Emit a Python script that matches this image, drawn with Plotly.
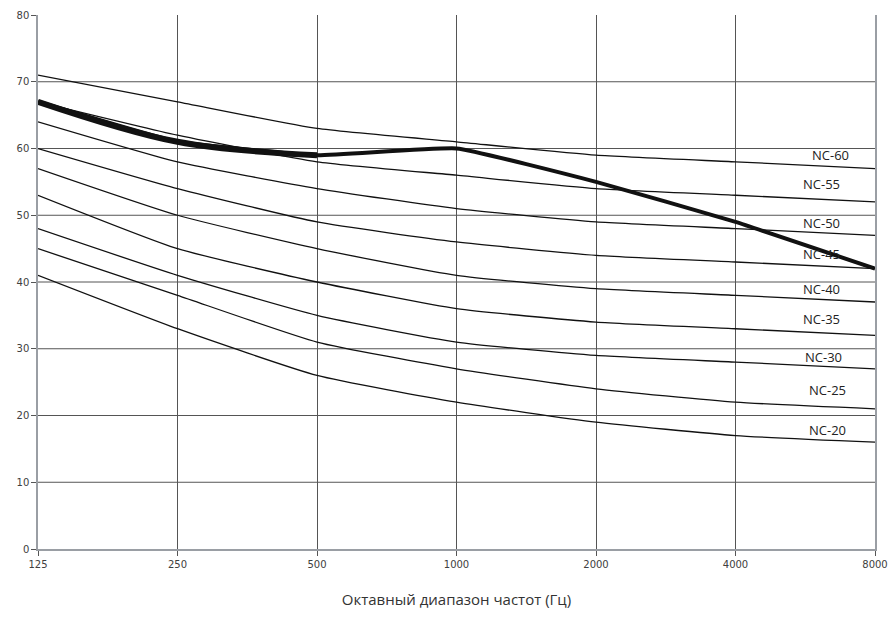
import plotly.graph_objects as go

freq_labels = ["125", "250", "500", "1000", "2000", "4000", "8000"]
nc_names = ["NC-60", "NC-55", "NC-50", "NC-45", "NC-40", "NC-35", "NC-30", "NC-25", "NC-20"]
nc60 = [71, 67, 63, 61, 59, 58, 57]
nc55 = [67, 62, 58, 56, 54, 53, 52]
nc50 = [64, 58, 54, 51, 49, 48, 47]
nc45 = [60, 54, 49, 46, 44, 43, 42]
nc40 = [57, 50, 45, 41, 39, 38, 37]
nc35 = [53, 45, 40, 36, 34, 33, 32]
nc30 = [48, 41, 35, 31, 29, 28, 27]
nc25 = [45, 38, 31, 27, 24, 22, 21]
nc20 = [41, 33, 26, 22, 19, 17, 16]
nc_curves = [nc60, nc55, nc50, nc45, nc40, nc35, nc30, nc25, nc20]
measured = [67, 61, 59, 60, 55, 49, 42]
label_y = [59.0, 54.7, 48.8, 44.2, 39.0, 34.5, 28.8, 23.8, 17.8]
label_x = [5.68, 5.62, 5.62, 5.62, 5.62, 5.62, 5.63, 5.66, 5.66]
grid_y = [10, 20, 30, 40, 50, 60, 70]

xs = list(range(len(freq_labels)))

fig = go.Figure()
for name, vals in zip(nc_names, nc_curves):
    fig.add_trace(go.Scatter(x=xs, y=vals, mode="lines", name=name,
                             line=dict(color="#111111", width=1.3, shape="spline", smoothing=0.5),
                             showlegend=False, hoverinfo="skip"))

fig.add_trace(go.Scatter(x=xs, y=measured, mode="lines",
                         line=dict(color="#111111", width=4, shape="spline", smoothing=0.35),
                         showlegend=False))
fig.add_trace(go.Scatter(x=xs[:3], y=measured[:3], mode="lines",
                         line=dict(color="#111111", width=6, shape="spline", smoothing=1.0),
                         showlegend=False))

for name, lx, ly in zip(nc_names, label_x, label_y):
    fig.add_annotation(x=lx, y=ly, text=name, showarrow=False,
                       font=dict(family="Open Sans", size=13, color="#222222"))

shapes = []
for gy in grid_y:
    shapes.append(dict(type="line", xref="paper", yref="y", x0=0, x1=1, y0=gy, y1=gy,
                       line=dict(color="#555555", width=1), layer="below"))

fig.update_layout(
    width=890, height=626,
    margin=dict(l=38, r=15, t=15, b=77),
    paper_bgcolor="white", plot_bgcolor="white",
    shapes=shapes,
    font=dict(family="DejaVu Sans", size=10, color="#404040"),
    xaxis=dict(range=[0, 6], tickvals=xs, ticktext=freq_labels,
               showgrid=True, gridcolor="#555555", gridwidth=1,
               showline=True, linecolor="#9a9ea4", linewidth=1.5,
               ticks="outside", ticklen=5, tickcolor="#555555",
               zeroline=False, automargin=False,
               title=dict(text="Октавный диапазон частот (Гц)",
                          font=dict(family="Open Sans", size=15, color="#333333"),
                          standoff=26)),
    yaxis=dict(range=[0, 80], tickvals=[0, 10, 20, 30, 40, 50, 60, 70, 80],
               showgrid=False, zeroline=False, automargin=False,
               showline=True, linecolor="#9a9ea4", linewidth=1.5, mirror=True,
               ticks="outside", ticklen=5, tickcolor="#555555"),
)

fig.write_html("out.html")
